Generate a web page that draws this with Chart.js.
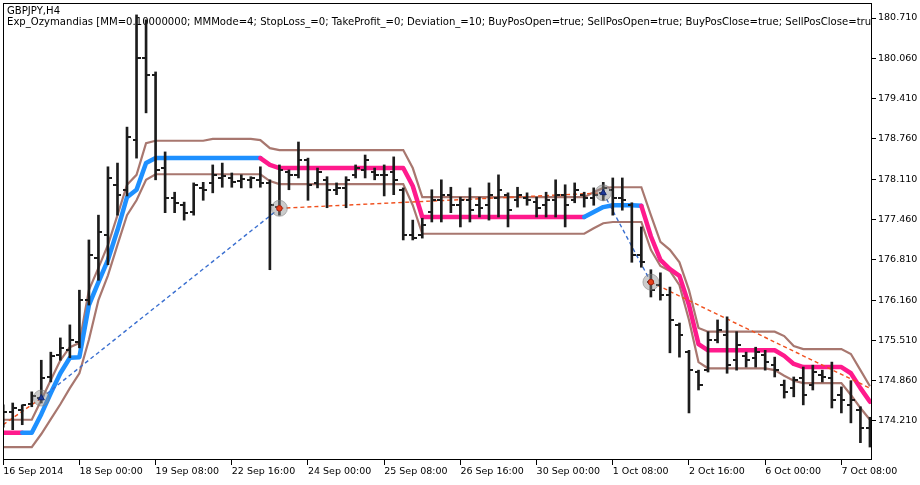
<!DOCTYPE html>
<html><head><meta charset="utf-8">
<script src="https://cdn.jsdelivr.net/npm/chart.js@4.4.0/dist/chart.umd.min.js"></script>
<style>html,body{margin:0;padding:0;background:#fff;}#wrap{width:920px;height:485px;}</style>
</head><body><div id="wrap"><canvas id="c" width="920" height="485"></canvas></div>
<script>
const symbolTitle = 'GBPJPY,H4';
const expertTitle = 'Exp_Ozymandias [MM=0.10000000; MMMode=4; StopLoss_=0; TakeProfit_=0; Deviation_=10; BuyPosOpen=true; SellPosOpen=true; BuyPosClose=true; SellPosClose=true]';

const xTickIndex = [0, 8, 16, 24, 32, 40, 48, 56, 64, 72, 80, 88];
const xTickLabels = ['16 Sep 2014','18 Sep 00:00','19 Sep 08:00','22 Sep 16:00','24 Sep 00:00','25 Sep 08:00','26 Sep 16:00','30 Sep 00:00','1 Oct 08:00','2 Oct 16:00','6 Oct 00:00','7 Oct 08:00'];
const yTickValues = [174.21,174.86,175.51,176.16,176.81,177.46,178.11,178.76,179.41,180.06,180.71];

const opens = [174.31,174.36,174.39,174.48,174.58,174.92,175.27,175.35,175.48,176.16,
 176.84,177.21,178.02,177.94,178.74,180.06,179.79,178.29,177.81,177.69,
 177.58,177.97,178.05,178.13,178.13,178.08,178.10,178.10,178.05,177.66,
 178.23,178.18,178.42,178.05,178.10,177.94,177.97,178.18,178.26,178.23,
 178.18,178.23,177.94,177.21,177.21,177.58,177.77,177.86,177.69,177.77,
 177.69,177.69,177.81,177.86,177.77,177.81,177.74,177.69,177.77,177.86,
 177.77,177.86,177.81,177.89,177.94,177.81,177.69,176.89,176.45,176.40,
 176.24,175.76,175.32,175.00,175.03,175.52,175.60,175.19,175.26,175.23,
 175.27,175.11,174.79,174.74,174.90,174.79,174.95,174.90,174.63,174.47,
 174.39,174.10];
const highs = [174.47,174.50,174.47,174.68,175.19,175.32,175.55,175.76,176.32,177.13,
 177.53,178.31,178.37,178.95,180.76,180.68,179.84,178.55,177.90,177.74,
 178.05,178.06,178.34,178.37,178.21,178.18,178.15,178.31,178.10,178.34,
 178.26,178.71,178.45,178.29,178.15,178.05,178.15,178.34,178.50,178.29,
 178.34,178.47,177.97,177.45,177.48,177.94,178.10,177.98,177.82,177.97,
 177.82,178.05,178.18,177.89,177.98,177.89,177.82,177.90,178.10,178.02,
 178.05,177.90,177.97,178.06,178.13,178.13,177.73,177.34,176.65,176.60,
 176.37,175.79,175.35,175.03,175.65,175.84,175.89,175.65,175.32,175.40,
 175.35,175.24,174.87,174.92,175.08,175.11,175.03,175.16,174.76,174.86,
 174.44,174.27];
const lows = [174.11,174.07,174.15,174.44,174.50,174.84,175.19,175.23,175.39,176.08,
 176.48,176.73,177.53,177.84,178.45,179.18,178.10,177.57,177.57,177.45,
 177.53,177.77,177.89,177.98,177.98,177.97,177.97,177.98,176.65,177.53,
 177.94,178.13,177.77,177.97,177.65,177.86,177.65,178.13,178.13,178.10,
 177.84,177.86,177.13,177.13,177.16,177.42,177.42,177.57,177.34,177.42,
 177.50,177.45,177.50,177.34,177.66,177.69,177.50,177.50,177.50,177.34,
 177.73,177.66,177.69,177.77,177.53,177.61,176.77,176.69,176.21,176.16,
 175.31,175.24,174.34,174.71,175.00,175.47,174.98,175.03,175.08,175.08,
 175.03,174.92,174.58,174.60,174.47,174.71,174.84,174.42,174.34,174.18,
 173.86,173.79];
const closes = [174.36,174.42,174.47,174.61,174.90,175.26,175.39,175.52,176.16,176.89,
 177.26,178.13,177.86,178.79,180.06,179.79,178.26,177.81,177.73,177.57,
 178.02,177.94,178.18,178.16,178.06,178.11,178.13,178.05,177.69,178.26,
 178.18,178.42,178.02,178.23,177.94,177.97,178.10,178.29,178.42,178.18,
 178.18,178.10,177.21,177.16,177.37,177.77,177.86,177.69,177.77,177.61,
 177.65,177.86,177.94,177.61,177.86,177.77,177.65,177.77,177.86,177.69,
 177.94,177.81,177.86,177.97,177.81,177.77,176.89,176.77,176.32,176.24,
 175.84,175.60,175.03,174.79,175.52,175.68,175.11,175.44,175.19,175.32,
 175.16,175.03,174.68,174.87,174.63,175.00,174.92,174.55,174.55,174.55,
 174.10,174.15];

const midLine = [174.02,174.02,174.02,174.02,174.32,174.66,174.98,175.23,175.24,176.08,
 176.45,176.81,177.29,177.82,177.94,178.37,178.45,178.45,178.45,178.45,
 178.45,178.45,178.45,178.45,178.45,178.45,178.45,178.45,178.34,178.29,
 178.29,178.29,178.29,178.29,178.29,178.29,178.29,178.29,178.29,178.29,
 178.29,178.29,178.29,178.00,177.50,177.50,177.50,177.50,177.50,177.50,
 177.50,177.50,177.50,177.50,177.50,177.50,177.50,177.50,177.50,177.50,
 177.50,177.50,177.58,177.66,177.69,177.69,177.69,177.68,177.19,176.81,
 176.66,176.55,176.08,175.45,175.35,175.35,175.35,175.35,175.35,175.35,
 175.35,175.35,175.26,175.13,175.08,175.08,175.08,175.08,175.08,174.98,
 174.74,174.52];
const upperBand = [174.23,174.23,174.23,174.23,174.55,174.87,175.19,175.40,175.47,176.32,
 176.68,177.05,177.53,178.02,178.18,178.69,178.73,178.73,178.73,178.73,
 178.73,178.73,178.76,178.76,178.76,178.76,178.76,178.74,178.61,178.58,
 178.58,178.58,178.58,178.58,178.58,178.58,178.58,178.58,178.58,178.58,
 178.58,178.58,178.58,178.29,177.82,177.82,177.82,177.82,177.82,177.82,
 177.82,177.82,177.82,177.82,177.82,177.82,177.82,177.82,177.82,177.82,
 177.82,177.82,177.90,177.97,177.98,177.98,177.98,177.98,177.53,177.10,
 176.97,176.77,176.32,175.71,175.65,175.65,175.65,175.65,175.65,175.65,
 175.65,175.65,175.58,175.42,175.37,175.37,175.37,175.37,175.37,175.29,
 175.03,174.77];
const lowerBand = [173.79,173.79,173.79,173.79,174.00,174.24,174.48,174.74,174.98,175.52,
 176.16,176.56,177.05,177.53,177.77,178.10,178.19,178.19,178.19,178.19,
 178.19,178.19,178.19,178.19,178.19,178.19,178.19,178.19,178.08,178.03,
 178.03,178.03,178.03,178.03,178.03,178.03,178.03,178.03,178.03,178.03,
 178.03,178.03,178.03,177.69,177.23,177.23,177.23,177.23,177.23,177.23,
 177.23,177.23,177.23,177.23,177.23,177.23,177.23,177.23,177.23,177.23,
 177.23,177.23,177.32,177.40,177.42,177.42,177.42,177.42,176.97,176.71,
 176.63,176.40,175.84,175.16,175.06,175.06,175.06,175.06,175.06,175.06,
 175.06,175.03,174.94,174.86,174.82,174.82,174.82,174.82,174.82,174.63,
 174.42,174.23];
// 1 = rising (blue), 0 = falling (pink), per bar
const trendUp = [0,0,0,1,1,1,1,1,1,1, 1,1,1,1,1,1,1,1,1,1, 1,1,1,1,1,1,1,1,0,0,
 0,0,0,0,0,0,0,0,0,0, 0,0,0,0,0,0,0,0,0,0, 0,0,0,0,0,0,0,0,0,0,
 0,0,1,1,1,1,1,1,0,0, 0,0,0,0,0,0,0,0,0,0, 0,0,0,0,0,0,0,0,0,0, 0,0];

const tradeBars = [4, 29, 63, 68];
const tradePrices = [174.58, 177.64, 177.89, 176.45];
const tradeSides = ['buy', 'sell', 'buy', 'sell'];
const openTradeBefore = {bar: 0, price: 174.15};
const openTradeAfter = {bar: 91, price: 174.74};

const BLUE = '#1e90ff', PINK = '#ff1a8c', BAND = '#a8776f', BAR = '#1c1c1c';
const FONT = 'DejaVu Sans';

function tickImg(side) {
  const c = document.createElement('canvas');
  c.width = 8; c.height = 2;
  const g = c.getContext('2d');
  g.fillStyle = BAR;
  g.fillRect(side === 'open' ? 0 : 4, 0, 4, 2);
  return c;
}
const idx = opens.map((_, i) => i);
const pts = arr => arr.map((v, i) => ({x: i, y: v}));

const bgPlugin = {id: 'bg', beforeDraw(ch) { const g = ch.ctx; g.save(); g.fillStyle = '#fff'; g.fillRect(0, 0, ch.width, ch.height); g.restore(); }};
const textPlugin = {id: 'txt', beforeDatasetsDraw(ch) {
  const g = ch.ctx, a = ch.chartArea;
  g.save(); g.beginPath(); g.rect(a.left, a.top, a.right - a.left, a.bottom - a.top); g.clip();
  g.fillStyle = '#000'; g.font = '10.1px "' + FONT + '"'; g.textBaseline = 'middle'; g.textAlign = 'left';
  g.fillText(symbolTitle, a.left + 4, a.top + 8);
  g.fillText(expertTitle, a.left + 4, a.top + 19);
  g.restore();
}};
const framePlugin = {id: 'frame', afterDatasetsDraw(ch) {
  const g = ch.ctx, a = ch.chartArea;
  g.save(); g.strokeStyle = '#000'; g.lineWidth = 1;
  g.strokeRect(Math.round(a.left) + 0.5, Math.round(a.top) + 0.5, Math.round(a.right - a.left), Math.round(a.bottom - a.top));
  g.restore();
}};

const tradeLine = (p0, p1, color) => ({type: 'line', data: [p0, p1], borderColor: color, borderWidth: 1.4, borderDash: [4, 3], pointRadius: 0, order: 3});
const tp = k => ({x: tradeBars[k], y: tradePrices[k]});

const datasets = [
  {type: 'bar', label: 'hl', data: idx.map(i => ({x: i, y: [lows[i], highs[i]]})), backgroundColor: BAR, borderWidth: 0, barThickness: 2, grouped: false, order: 2},
  {type: 'line', label: 'open', data: pts(opens), showLine: false, pointStyle: tickImg('open'), pointRadius: 3, order: 1},
  {type: 'line', label: 'close', data: pts(closes), showLine: false, pointStyle: tickImg('close'), pointRadius: 3, order: 1},
  {type: 'line', label: 'upper', data: pts(upperBand), borderColor: BAND, borderWidth: 2.2, pointRadius: 0, tension: 0, order: 6},
  {type: 'line', label: 'lower', data: pts(lowerBand), borderColor: BAND, borderWidth: 2.2, pointRadius: 0, tension: 0, order: 6},
  {type: 'line', label: 'mid', data: pts(midLine), borderColor: PINK, borderWidth: 4.5, pointRadius: 0, tension: 0, borderJoinStyle: 'round', borderCapStyle: 'round', order: 5,
    segment: {borderColor: c => trendUp[c.p1DataIndex] ? BLUE : PINK}},
  tradeLine({x: openTradeBefore.bar, y: openTradeBefore.price}, tp(0), '#f0501e'),
  tradeLine(tp(0), tp(1), '#3a6fd0'),
  tradeLine(tp(1), tp(2), '#f0501e'),
  tradeLine(tp(2), tp(3), '#3a6fd0'),
  tradeLine(tp(3), {x: openTradeAfter.bar, y: openTradeAfter.price}, '#f0501e'),
  {type: 'line', label: 'marks', data: tradeBars.map((b, k) => ({x: b, y: tradePrices[k]})), showLine: false, pointRadius: 8,
    pointBackgroundColor: 'rgba(140,140,140,0.45)', pointBorderColor: 'rgba(120,120,120,0.5)', pointBorderWidth: 1, order: 0},
  {type: 'line', label: 'arrows', data: tradeBars.map((b, k) => ({x: b, y: tradePrices[k]})), showLine: false,
    pointStyle: tradeSides.map(s => s === 'buy' ? 'triangle' : 'circle'), pointRadius: tradeSides.map(s => s === 'buy' ? 3.5 : 2.8),
    pointBackgroundColor: tradeSides.map(s => s === 'buy' ? '#1f3a9a' : '#e8401a'), pointBorderColor: tradeSides.map(s => s === 'buy' ? '#10246e' : '#a02010'), pointBorderWidth: 1, order: -1}
];

new Chart(document.getElementById('c'), {
  type: 'bar',
  data: {datasets},
  plugins: [bgPlugin, textPlugin, framePlugin],
  options: {
    responsive: false, animation: false, devicePixelRatio: 1, events: [],
    layout: {autoPadding: false, padding: {left: 3, top: 3, right: 0, bottom: 0}},
    plugins: {legend: {display: false}, tooltip: {enabled: false}, title: {display: false}},
    scales: {
      x: {type: 'linear', min: -0.02, max: 91.11, offset: false,
        grid: {display: true, drawOnChartArea: false, drawTicks: true, tickLength: 6, color: '#000', offset: false},
        border: {display: true, color: '#000', width: 1},
        ticks: {autoSkip: false, maxRotation: 0, minRotation: 0, align: 'start', padding: 1, color: '#000', font: {family: FONT, size: 9.5},
          callback: (v, i) => xTickLabels[i]},
        afterBuildTicks: s => { s.ticks = xTickIndex.map(v => ({value: v})); },
        afterFit: s => { s.height = 26; s.paddingLeft = 0; s.paddingRight = 0; s.paddingTop = 0; s.paddingBottom = 0; }},
      y: {type: 'linear', position: 'right', min: 173.597, max: 180.952,
        grid: {display: true, drawOnChartArea: false, drawTicks: true, tickLength: 5, color: '#000'},
        border: {display: true, color: '#000', width: 1},
        ticks: {color: '#000', padding: 2, font: {family: FONT, size: 9.5}, callback: v => v.toFixed(3)},
        afterBuildTicks: s => { s.ticks = yTickValues.map(v => ({value: v})); },
        afterFit: s => { s.width = 49; s.paddingLeft = 0; s.paddingRight = 0; s.paddingTop = 0; s.paddingBottom = 0; }}
    }
  }
});
</script></body></html>
